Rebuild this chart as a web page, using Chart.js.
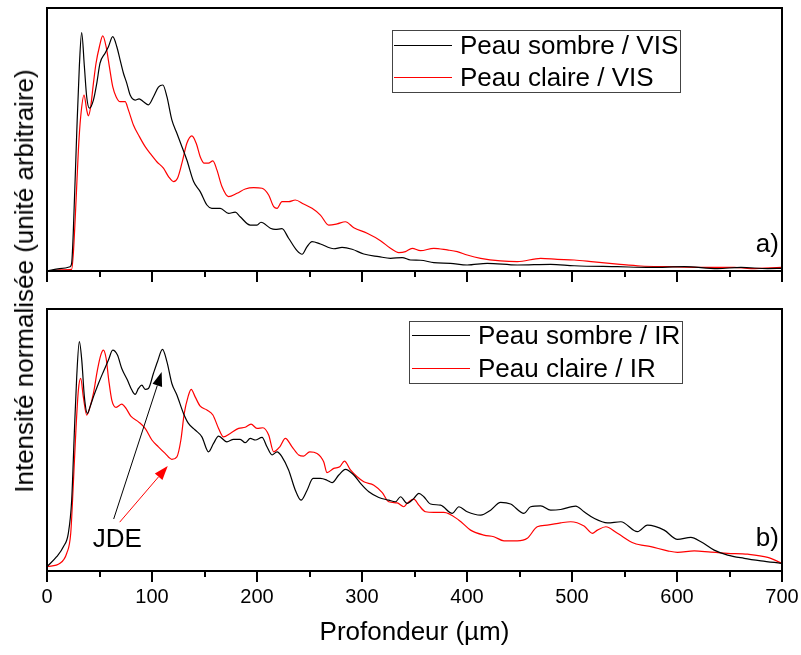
<!DOCTYPE html>
<html lang="fr">
<head>
<meta charset="UTF-8">
<title>Profondeur</title>
<script src="https://cdn.jsdelivr.net/npm/chart.js"></script>
<style>
  body { margin: 0; background: #fff; }
  #wrap { position: relative; width: 801px; height: 655px; font-family: "Liberation Sans", Arial, sans-serif; }
  canvas { position: absolute; left: 0; }
  #topChart { top: 0; }
  #botChart { top: 300px; }
  #yTitle {
    position: absolute; left: 24px; top: 281px;
    transform: translate(-50%, -50%) rotate(-90deg);
    font-size: 26px; line-height: 1; white-space: nowrap; color: #000;
  }
</style>
</head>
<body>
<div id="wrap">
  <canvas id="topChart" width="801" height="300"></canvas>
  <canvas id="botChart" width="801" height="355"></canvas>
  <div id="yTitle">Intensité normalisée (unité arbitraire)</div>
</div>

<script>
const FONT = '"Liberation Sans", Arial, sans-serif';

// a) visible
const visSombreX = [0, 12, 22, 23.5, 25, 28.3, 30.8, 33, 35.6, 37.8, 40.4, 44.2, 47.4, 50.5, 55.3, 58.5, 62.6, 66.5, 69.6, 72.8, 76, 79.2, 83.9, 87.7, 91.9, 96.6, 101.4, 106.1, 110.3, 114.2, 118.9, 123.7, 128.5, 133.2, 139.6, 145.9, 152.3, 157, 165, 172.9, 179.3, 184, 193.6, 200, 203.8, 212.7, 217.4, 223.8, 230.1, 238.1, 242.9, 247.7, 252.4, 260.4, 273.1, 281, 290.6, 301.7, 316, 327.2, 338.3, 346.2, 355.6, 368.4, 384.3, 400.2, 419.3, 447.9, 479.7, 502, 543.3, 575.1, 606.9, 638.7, 660.9, 686.4, 700];
const visSombreY = [0, .01, .018, .033, .158, .576, .855, .997, .855, .729, .681, .715, .785, .869, .911, .938, .98, .938, .883, .827, .785, .736, .715, .72, .708, .695, .729, .769, .778, .729, .632, .576, .52, .464, .374, .332, .276, .262, .262, .241, .246, .227, .192, .192, .204, .179, .174, .177, .137, .085, .07, .102, .123, .113, .093, .099, .091, .071, .06, .053, .056, .046, .045, .035, .032, .025, .032, .025, .028, .022, .018, .015, .018, .01, .015, .01, .011];

const visClaireX = [0, 12.4, 23.5, 25.1, 27.7, 29.9, 32.1, 35.3, 37.8, 39.4, 41.6, 44.2, 46.7, 49.9, 53.1, 56.3, 59.4, 62.6, 65.8, 69.6, 74.4, 77.5, 82.3, 88, 93.5, 98.2, 104.6, 110.9, 115.7, 120.5, 124.3, 128.5, 133.2, 138, 142.1, 145.9, 149.7, 153.8, 158, 161.8, 166.6, 172.9, 180.9, 188.8, 196.8, 204.8, 211.1, 215.9, 219.1, 223.8, 230.1, 236.5, 244.4, 252.4, 260.4, 268.3, 276.3, 284.2, 292.2, 304.9, 317.6, 327.1, 335, 341.4, 347.8, 355.7, 368.4, 381.2, 390.7, 400.2, 413, 432, 447.9, 470.2, 486, 502, 521, 543.3, 565.5, 591, 622.8, 654.6, 670.5, 699];
const visClaireY = [0, .005, .007, .074, .297, .506, .646, .736, .674, .649, .687, .785, .869, .938, .983, .938, .855, .771, .729, .708, .708, .674, .611, .562, .52, .492, .457, .43, .395, .374, .388, .451, .534, .565, .534, .478, .451, .451, .461, .423, .353, .311, .325, .343, .349, .346, .318, .269, .262, .29, .29, .297, .28, .262, .234, .192, .197, .206, .181, .158, .127, .095, .077, .081, .095, .085, .095, .088, .081, .067, .053, .042, .039, .053, .049, .046, .038, .029, .021, .018, .015, .015, .01, .015];

// b) infrarouge
const irSombreX = [0, 9.2, 15.6, 20.3, 23.5, 26, 28.3, 30.8, 33.1, 35.6, 38.5, 41, 44.2, 49, 53.7, 58.5, 62.6, 67.1, 71.2, 76.6, 80.8, 83.9, 87.1, 90.3, 93.5, 96.6, 101.4, 105.2, 110, 114.2, 118.9, 123.7, 130, 134.7, 141.1, 147.5, 153.8, 158.6, 163.4, 171.3, 177.7, 184, 188.8, 193.6, 198.4, 204.8, 209.5, 214.3, 219.1, 223.8, 230.1, 236.5, 241.9, 247.7, 253.4, 260.4, 266.7, 271.5, 277.9, 284.2, 292.2, 298.6, 306.5, 316, 325.5, 331.9, 336.7, 343, 349.4, 354.1, 358.9, 365.3, 374.8, 386, 392.3, 400.2, 413, 422.5, 432, 441.5, 454.3, 460.6, 470.2, 479.7, 489.2, 503.5, 511.5, 521, 533.8, 546.5, 562.4, 571.9, 587.8, 600.5, 613.2, 622.8, 635.4, 648.2, 664, 680, 699];
const irSombreY = [.015, .059, .103, .162, .308, .602, .852, 1.006, .925, .763, .69, .719, .763, .822, .874, .925, .969, .947, .888, .837, .793, .774, .8, .815, .796, .8, .867, .918, .972, .918, .822, .771, .69, .646, .617, .587, .521, .558, .59, .565, .576, .576, .561, .58, .573, .585, .543, .507, .521, .499, .441, .352, .308, .352, .404, .404, .396, .385, .419, .444, .419, .382, .345, .32, .308, .301, .323, .294, .316, .338, .323, .291, .286, .25, .279, .257, .242, .264, .298, .291, .25, .279, .283, .264, .267, .282, .257, .228, .208, .213, .169, .198, .176, .135, .144, .125, .088, .066, .052, .041, .03];

const irClaireX = [0, 12.4, 18.8, 22.6, 25.1, 27.7, 29.9, 32.1, 34.6, 37.8, 41, 44.2, 48, 51.2, 53.7, 56.3, 58.8, 61.7, 65.8, 71.2, 75.3, 79.8, 87.1, 93.5, 99.9, 106.1, 112.5, 118.9, 123.7, 127.5, 130.7, 134.3, 137.3, 141.1, 145.9, 152.3, 158, 163.4, 168.1, 174.5, 182.5, 188.8, 194.3, 200, 205.7, 211.1, 215.9, 221.7, 227, 233.4, 239.7, 244.4, 250.2, 257.2, 263.5, 266.7, 273.1, 278.8, 283.3, 289, 295.4, 301.7, 311.3, 319.3, 325.5, 333.5, 339.8, 343, 349.4, 354.1, 360.5, 368.4, 378, 392.3, 403.4, 416.1, 425.6, 435.2, 447.9, 457.4, 466.9, 476.4, 489.2, 498.7, 511.5, 519.4, 524.2, 532.2, 543.3, 559.2, 575.1, 591, 600.5, 616.4, 632.3, 648.2, 667.3, 686.4, 699];
const irClaireY = [.015, .03, .074, .162, .382, .631, .793, .844, .763, .683, .719, .778, .881, .947, .969, .933, .837, .749, .717, .731, .712, .678, .653, .624, .573, .543, .514, .488, .499, .573, .69, .763, .796, .763, .722, .705, .683, .624, .587, .602, .624, .629, .643, .624, .627, .595, .521, .543, .58, .543, .507, .502, .521, .514, .477, .429, .448, .455, .48, .441, .411, .389, .374, .341, .301, .296, .279, .294, .313, .286, .257, .254, .254, .22, .176, .154, .147, .129, .129, .14, .191, .198, .208, .213, .194, .162, .176, .191, .162, .118, .103, .085, .078, .085, .079, .074, .07, .056, .032];

const xMin = 0, xMax = 700, xStep = 100, xMinor = 50;

function pts(xs, ys) {
  return xs.map((x, i) => ({ x: x, y: ys[i] }));
}

function line(label, color, xs, ys) {
  return {
    label: label,
    data: pts(xs, ys),
    borderColor: color,
    borderWidth: 1.2,
    pointRadius: 0,
    fill: false,
    cubicInterpolationMode: 'monotone'
  };
}

// box around the plot + ticks under the x axis
const framePlugin = {
  id: 'frame',
  afterDraw(chart) {
    const { ctx, chartArea: a } = chart;
    const x = chart.scales.x;
    ctx.save();
    ctx.strokeStyle = '#000';
    ctx.lineWidth = 2;
    ctx.strokeRect(a.left, a.top, a.right - a.left, a.bottom - a.top);
    for (let v = xMin; v <= xMax; v += xMinor) {
      const px = Math.round(x.getPixelForValue(v));
      const len = v % xStep === 0 ? 11 : 6;
      ctx.beginPath();
      ctx.moveTo(px, a.bottom);
      ctx.lineTo(px, a.bottom + len);
      ctx.stroke();
    }
    ctx.restore();
  }
};

const legendPlugin = {
  id: 'boxLegend',
  afterDraw(chart, args, o) {
    const ctx = chart.ctx;
    ctx.save();
    ctx.strokeStyle = '#444';
    ctx.lineWidth = 1;
    ctx.strokeRect(o.x + 0.5, o.y + 0.5, o.w, o.h);
    ctx.font = '26px ' + FONT;
    ctx.fillStyle = '#000';
    ctx.textBaseline = 'alphabetic';
    ctx.textAlign = 'left';
    chart.data.datasets.forEach((ds, i) => {
      const y = o.y + o.rows[i];
      ctx.strokeStyle = ds.borderColor;
      ctx.beginPath();
      ctx.moveTo(o.x + o.l0, y + 0.5);
      ctx.lineTo(o.x + o.l1, y + 0.5);
      ctx.stroke();
      ctx.fillText(ds.label, o.x + o.tx, y + 9);
    });
    ctx.restore();
  }
};

const notePlugin = {
  id: 'notes',
  afterDatasetsDraw(chart, args, o) {
    const ctx = chart.ctx;
    const sx = chart.scales.x, sy = chart.scales.y;
    ctx.save();
    ctx.font = '26px ' + FONT;
    ctx.fillStyle = '#000';
    ctx.textBaseline = 'alphabetic';
    (o.texts || []).forEach(t => {
      ctx.textAlign = t.align;
      ctx.fillText(t.text, sx.getPixelForValue(t.x), sy.getPixelForValue(t.y) + 9);
    });
    (o.arrows || []).forEach(a => {
      const x0 = sx.getPixelForValue(a.from[0]), y0 = sy.getPixelForValue(a.from[1]);
      const x1 = sx.getPixelForValue(a.to[0]), y1 = sy.getPixelForValue(a.to[1]);
      const ang = Math.atan2(y1 - y0, x1 - x0);
      const hl = 14, hw = 5;
      ctx.strokeStyle = a.color;
      ctx.fillStyle = a.color;
      ctx.lineWidth = 1;
      ctx.beginPath();
      ctx.moveTo(x0, y0);
      ctx.lineTo(x1 - hl * Math.cos(ang), y1 - hl * Math.sin(ang));
      ctx.stroke();
      ctx.beginPath();
      ctx.moveTo(x1, y1);
      ctx.lineTo(x1 - hl * Math.cos(ang) + hw * Math.sin(ang), y1 - hl * Math.sin(ang) - hw * Math.cos(ang));
      ctx.lineTo(x1 - hl * Math.cos(ang) - hw * Math.sin(ang), y1 - hl * Math.sin(ang) + hw * Math.cos(ang));
      ctx.closePath();
      ctx.fill();
    });
    ctx.restore();
  }
};

// top panel: a) VIS
new Chart(document.getElementById('topChart'), {
  type: 'line',
  data: {
    datasets: [
      line('Peau sombre / VIS', '#000000', visSombreX, visSombreY),
      line('Peau claire / VIS', '#ff0000', visClaireX, visClaireY)
    ]
  },
  options: {
    responsive: false,
    animation: false,
    layout: { padding: { left: 47, right: 19, top: 8, bottom: 29 } },
    scales: {
      x: { type: 'linear', min: xMin, max: xMax, display: false },
      y: { min: 0, max: 1.1, display: false }
    },
    plugins: {
      legend: { display: false },
      tooltip: { enabled: false },
      boxLegend: { x: 392, y: 30, w: 288, h: 62, l0: 2, l1: 60, tx: 68, rows: [15, 47] },
      notes: { texts: [{ text: 'a)', x: 697, y: 0.117, align: 'right' }] }
    }
  },
  plugins: [framePlugin, legendPlugin, notePlugin]
});

// bottom panel: b) IR
new Chart(document.getElementById('botChart'), {
  type: 'line',
  data: {
    datasets: [
      line('Peau sombre / IR', '#000000', irSombreX, irSombreY),
      line('Peau claire / IR', '#ff0000', irClaireX, irClaireY)
    ]
  },
  options: {
    responsive: false,
    animation: false,
    layout: { padding: { left: 47, right: 19, top: 9, bottom: 0 } },
    scales: {
      x: {
        type: 'linear', min: xMin, max: xMax,
        ticks: { stepSize: xStep, color: '#000', font: { family: FONT, size: 20 }, padding: 14, maxRotation: 0, autoSkip: false },
        grid: { display: false, drawTicks: false },
        border: { display: false },
        title: { display: true, text: 'Profondeur (µm)', color: '#000', font: { family: FONT, size: 26 }, padding: { top: 0, bottom: 7 } },
        afterFit(s) { s.height = 84; s.paddingLeft = 0; s.paddingRight = 0; }
      },
      y: { min: -0.004, max: 1.15, display: false }
    },
    plugins: {
      legend: { display: false },
      tooltip: { enabled: false },
      boxLegend: { x: 409, y: 21, w: 273, h: 62, l0: 3, l1: 61, tx: 69, rows: [14, 47] },
      notes: {
        texts: [
          { text: 'b)', x: 697, y: 0.145, align: 'right' },
          { text: 'JDE', x: 43.5, y: 0.141, align: 'left' }
        ],
        arrows: [
          { from: [63.5, 0.225], to: [109.2, 0.872], color: '#000' },
          { from: [69.2, 0.211], to: [115, 0.458], color: '#ff0000' }
        ]
      }
    }
  },
  plugins: [framePlugin, legendPlugin, notePlugin]
});
</script>
</body>
</html>
